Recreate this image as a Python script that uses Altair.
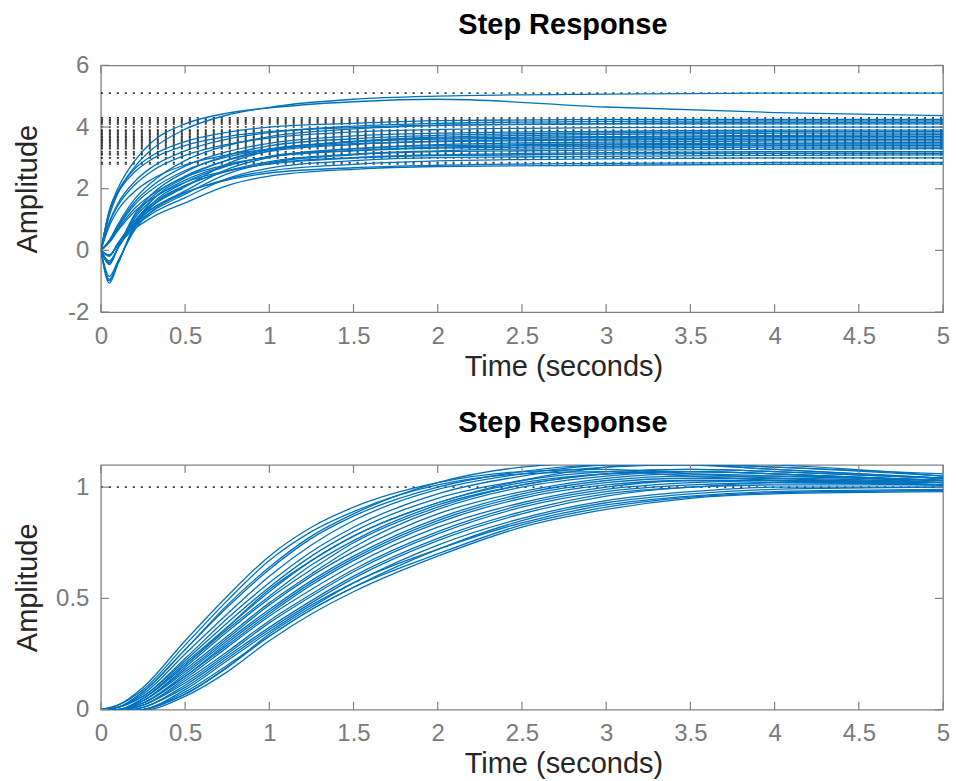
import altair as alt
import pandas as pd

# ---------------- data ----------------
X_TICKS = [0, 0.5, 1, 1.5, 2, 2.5, 3, 3.5, 4, 4.5, 5]
X_DOMAIN = [0, 5]

TOP_T = [0, 0.05, 0.1, 0.2, 0.3, 0.5, 0.75, 1.0, 1.5, 2.0, 3.0, 4.0, 5.0]
TOP_CURVES = [
    [0, 1.12, 1.84, 2.70, 3.26, 3.93, 4.39, 4.64, 4.90, 5.00, 5.07, 5.10, 5.10],
    [0, 1.30, 2.00, 2.90, 3.50, 4.10, 4.45, 4.62, 4.82, 4.90, 4.65, 4.47, 4.37],
    [0, 1.28, 1.91, 2.64, 3.06, 3.53, 3.83, 4.00, 4.12, 4.21, 4.25, 4.25, 4.25],
    [0, 0.92, 1.51, 2.23, 2.69, 3.23, 3.61, 3.82, 4.03, 4.12, 4.18, 4.20, 4.20],
    [0, 0.33, 0.83, 1.66, 2.20, 2.91, 3.40, 3.69, 3.94, 4.05, 4.11, 4.15, 4.15],
    [0, 1.23, 1.85, 2.54, 2.95, 3.40, 3.69, 3.85, 3.98, 4.06, 4.10, 4.10, 4.10],
    [0, 0.88, 1.44, 2.12, 2.56, 3.08, 3.44, 3.64, 3.84, 3.92, 3.98, 4.00, 4.00],
    [0, 0.31, 0.78, 1.56, 2.07, 2.73, 3.20, 3.47, 3.71, 3.80, 3.86, 3.90, 3.90],
    [0, -0.46, 0.08, 1.16, 1.81, 2.54, 3.08, 3.39, 3.62, 3.73, 3.81, 3.85, 3.85],
    [0, -1.06, -0.46, 0.84, 1.60, 2.36, 2.93, 3.27, 3.53, 3.67, 3.76, 3.80, 3.80],
    [0, -0.19, 0.23, 0.94, 1.43, 2.06, 2.81, 3.23, 3.53, 3.64, 3.69, 3.73, 3.75],
    [0, 0.30, 0.74, 1.48, 1.96, 2.59, 3.03, 3.29, 3.52, 3.61, 3.66, 3.70, 3.70],
    [0, -0.44, 0.07, 1.10, 1.72, 2.41, 2.92, 3.21, 3.43, 3.54, 3.61, 3.65, 3.65],
    [0, 0.79, 1.30, 1.91, 2.30, 2.77, 3.10, 3.28, 3.46, 3.53, 3.58, 3.60, 3.60],
    [0, -0.99, -0.43, 0.78, 1.49, 2.20, 2.73, 3.05, 3.30, 3.43, 3.51, 3.55, 3.55],
    [0, -0.18, 0.21, 0.88, 1.33, 1.93, 2.63, 3.01, 3.29, 3.40, 3.45, 3.48, 3.50],
    [0, -0.41, 0.07, 1.04, 1.62, 2.28, 2.76, 3.04, 3.24, 3.35, 3.42, 3.45, 3.45],
    [0, 0.27, 0.68, 1.36, 1.80, 2.38, 2.79, 3.03, 3.23, 3.32, 3.37, 3.40, 3.40],
    [0, -0.94, -0.40, 0.74, 1.41, 2.08, 2.58, 2.88, 3.12, 3.23, 3.32, 3.35, 3.35],
    [0, -0.17, 0.20, 0.83, 1.25, 1.82, 2.48, 2.84, 3.10, 3.20, 3.25, 3.28, 3.30],
    [0, -0.38, 0.06, 0.96, 1.50, 2.11, 2.56, 2.82, 3.01, 3.10, 3.17, 3.20, 3.20],
    [0, 0.25, 0.63, 1.26, 1.67, 2.21, 2.58, 2.80, 2.99, 3.07, 3.12, 3.15, 3.15],
    [0, -0.16, 0.19, 0.78, 1.18, 1.71, 2.33, 2.67, 2.91, 3.01, 3.05, 3.08, 3.10],
    [0, -0.84, -0.36, 0.66, 1.26, 1.86, 2.31, 2.58, 2.79, 2.90, 2.97, 3.00, 3.00],
    [0, -0.34, 0.06, 0.86, 1.34, 1.88, 2.28, 2.51, 2.68, 2.76, 2.82, 2.85, 2.85],
    [0, -0.14, 0.17, 0.70, 1.06, 1.54, 2.10, 2.41, 2.63, 2.72, 2.76, 2.79, 2.80],
]
TOP_STEADY = [5.1, 4.3, 4.25, 4.2, 4.15, 4.1, 4.0, 3.9, 3.85, 3.8, 3.75, 3.7, 3.65,
              3.6, 3.55, 3.5, 3.45, 3.4, 3.35, 3.3, 3.2, 3.15, 3.1, 3.0, 2.85, 2.8]
TOP_Y_TICKS = [-2, 0, 2, 4, 6]
TOP_Y_DOMAIN = [-2, 6]

BOT_T = [0, 0.1, 0.25, 0.5, 0.75, 1.0, 1.25, 1.5, 2.0, 2.5, 3.0, 3.5, 4.0, 5.0]
BOT_CURVES = [
    [0, 0.02, 0.10, 0.31, 0.51, 0.69, 0.82, 0.91, 1.02, 1.07, 1.08, 1.06, 1.04, 1.01],
    [0, 0.02, 0.09, 0.29, 0.49, 0.67, 0.80, 0.89, 1.01, 1.06, 1.07, 1.05, 1.03, 1.01],
    [0, 0.01, 0.08, 0.27, 0.46, 0.63, 0.77, 0.87, 1.00, 1.07, 1.10, 1.10, 1.08, 1.04],
    [0, 0.01, 0.07, 0.25, 0.43, 0.60, 0.74, 0.85, 0.99, 1.06, 1.10, 1.11, 1.09, 1.06],
    [0, 0.01, 0.06, 0.23, 0.41, 0.57, 0.71, 0.82, 0.97, 1.05, 1.09, 1.10, 1.09, 1.05],
    [0, 0.01, 0.06, 0.22, 0.39, 0.55, 0.69, 0.80, 0.95, 1.03, 1.07, 1.08, 1.07, 1.04],
    [0, 0.00, 0.05, 0.21, 0.37, 0.53, 0.67, 0.78, 0.93, 1.02, 1.06, 1.07, 1.06, 1.03],
    [0, 0.00, 0.05, 0.20, 0.36, 0.51, 0.65, 0.76, 0.92, 1.01, 1.06, 1.07, 1.06, 1.03],
    [0, 0.00, 0.04, 0.19, 0.35, 0.50, 0.63, 0.75, 0.91, 1.01, 1.06, 1.08, 1.07, 1.04],
    [0, 0.00, 0.04, 0.18, 0.33, 0.48, 0.61, 0.73, 0.90, 1.00, 1.05, 1.07, 1.06, 1.02],
    [0, 0.00, 0.04, 0.17, 0.32, 0.47, 0.60, 0.71, 0.88, 0.98, 1.04, 1.06, 1.05, 1.03],
    [0, 0.00, 0.03, 0.16, 0.31, 0.45, 0.58, 0.69, 0.86, 0.97, 1.03, 1.05, 1.05, 1.03],
    [0, 0.00, 0.03, 0.15, 0.30, 0.44, 0.57, 0.68, 0.85, 0.96, 1.02, 1.04, 1.04, 1.02],
    [0, 0.00, 0.03, 0.15, 0.29, 0.43, 0.56, 0.67, 0.84, 0.95, 1.01, 1.03, 1.03, 1.01],
    [0, 0.00, 0.02, 0.14, 0.28, 0.42, 0.54, 0.65, 0.82, 0.93, 1.00, 1.03, 1.03, 1.02],
    [0, 0.00, 0.02, 0.13, 0.26, 0.40, 0.52, 0.63, 0.80, 0.92, 0.99, 1.02, 1.03, 1.02],
    [0, -0.005, 0.02, 0.12, 0.25, 0.39, 0.51, 0.62, 0.79, 0.91, 0.98, 1.01, 1.02, 1.01],
    [0, -0.005, 0.01, 0.11, 0.24, 0.37, 0.49, 0.60, 0.77, 0.89, 0.97, 1.00, 1.02, 1.01],
    [0, -0.01, 0.01, 0.10, 0.23, 0.36, 0.48, 0.59, 0.76, 0.88, 0.96, 1.00, 1.01, 1.01],
    [0, -0.01, 0.00, 0.09, 0.22, 0.35, 0.47, 0.57, 0.74, 0.86, 0.94, 0.98, 1.00, 1.00],
    [0, -0.01, 0.00, 0.08, 0.20, 0.33, 0.45, 0.55, 0.72, 0.85, 0.93, 0.97, 0.99, 1.00],
    [0, -0.01, 0.00, 0.07, 0.19, 0.34, 0.46, 0.57, 0.72, 0.84, 0.92, 0.96, 0.98, 0.99],
    [0, -0.01, 0.00, 0.07, 0.19, 0.33, 0.45, 0.55, 0.70, 0.83, 0.91, 0.955, 0.975, 0.985],
    [0, -0.01, -0.005, 0.06, 0.17, 0.31, 0.43, 0.53, 0.69, 0.82, 0.90, 0.95, 0.97, 0.98],
    [0, 0.00, 0.05, 0.20, 0.37, 0.54, 0.67, 0.78, 0.93, 1.03, 1.09, 1.11, 1.10, 1.05],
    [0, 0.01, 0.08, 0.27, 0.47, 0.64, 0.78, 0.88, 1.02, 1.09, 1.11, 1.10, 1.08, 1.04],
]
BOT_STEADY = [1.0]
BOT_Y_TICKS = [0, 0.5, 1]
BOT_Y_DOMAIN = [0, 1.1]

TITLE = "Step Response"
X_TITLE = "Time (seconds)"
Y_TITLE = "Amplitude"

# ---------------- styling ----------------
FONT = "Liberation Sans"
BLUE = "#0072BD"
FRAME = "#808080"
LABEL = "#7a7a7a"
DARK = "#262626"
W = 843
H_TOP = 247
H_BOT = 245


def panel(T, curves, steady, yticks, ydomain, H, title_offset):
    rows = [{"curve": i, "t": t, "y": v}
            for i, c in enumerate(curves) for t, v in zip(T, c)]
    df = pd.DataFrame(rows)
    xs = alt.Scale(domain=X_DOMAIN, nice=False, zero=False)
    ys = alt.Scale(domain=ydomain, nice=False, zero=False)

    xaxis = alt.Axis(values=X_TICKS, labelExpr="'' + datum.value", ticks=False,
                     tickSize=0, domain=False, grid=False, labelPadding=12,
                     labelFontSize=24, labelFont=FONT, labelColor=LABEL,
                     labelFlush=False, title=X_TITLE, titleFont=FONT,
                     titleFontSize=29, titleFontWeight="normal", titleColor=DARK,
                     titlePadding=4, titleX=463, titleAlign="center")
    yaxis = alt.Axis(values=yticks, labelExpr="'' + datum.value", ticks=False,
                     tickSize=0, domain=False, grid=False, labelPadding=12,
                     labelFontSize=24, labelFont=FONT, labelColor=LABEL,
                     labelFlush=False, title=Y_TITLE, titleFont=FONT,
                     titleFontSize=29, titleFontWeight="normal", titleColor=DARK,
                     titleX=-73, titleY=H / 2, titleAngle=270, titleAlign="center",
                     titleBaseline="middle")

    lines = alt.Chart(df).mark_line(color=BLUE, strokeWidth=1.3,
                                    interpolate="monotone", clip=True).encode(
        x=alt.X("t:Q", scale=xs, axis=xaxis),
        y=alt.Y("y:Q", scale=ys, axis=yaxis),
        detail="curve:N",
    )

    sdf = pd.DataFrame({"level": steady, "x0": T[0], "x1": T[-1]})
    dots = alt.Chart(sdf).mark_rule(color="#333333", strokeWidth=1.6,
                                    strokeDash=[2, 6]).encode(
        x=alt.X("x0:Q", scale=xs, axis=xaxis),
        x2="x1:Q",
        y=alt.Y("level:Q", scale=ys, axis=yaxis),
    )

    xt = pd.DataFrame({"v": X_TICKS})
    yt = pd.DataFrame({"v": yticks})
    tick_style = dict(color=FRAME, strokeWidth=1.2)
    xtop = alt.Chart(xt).mark_rule(**tick_style).encode(
        x=alt.X("v:Q", scale=xs, axis=xaxis), y=alt.value(0), y2=alt.value(8))
    xbot = alt.Chart(xt).mark_rule(**tick_style).encode(
        x=alt.X("v:Q", scale=xs, axis=xaxis), y=alt.value(H), y2=alt.value(H - 8))
    yl = alt.Chart(yt).mark_rule(**tick_style).encode(
        y=alt.Y("v:Q", scale=ys, axis=yaxis), x=alt.value(0), x2=alt.value(8))
    yr = alt.Chart(yt).mark_rule(**tick_style).encode(
        y=alt.Y("v:Q", scale=ys, axis=yaxis), x=alt.value(W - 8), x2=alt.value(W))

    return alt.layer(dots, lines, xtop, xbot, yl, yr).properties(
        width=W, height=H,
        title=alt.TitleParams(TITLE, font=FONT, fontSize=29, fontWeight="bold",
                              color="black", anchor="middle", dx=41,
                              offset=title_offset),
    )


top = panel(TOP_T, TOP_CURVES, TOP_STEADY, TOP_Y_TICKS, TOP_Y_DOMAIN, H_TOP, 13)
bot = panel(BOT_T, BOT_CURVES, BOT_STEADY, BOT_Y_TICKS, BOT_Y_DOMAIN, H_BOT, 26)

chart = alt.vconcat(top, bot, spacing=153, bounds="flush").properties(
    padding={"left": 13, "top": 10, "right": 5, "bottom": 2},
    background="white",
).configure_view(stroke=FRAME, strokeWidth=1.3)

chart.save("out.html", embed_options={"renderer": "svg", "actions": False})
